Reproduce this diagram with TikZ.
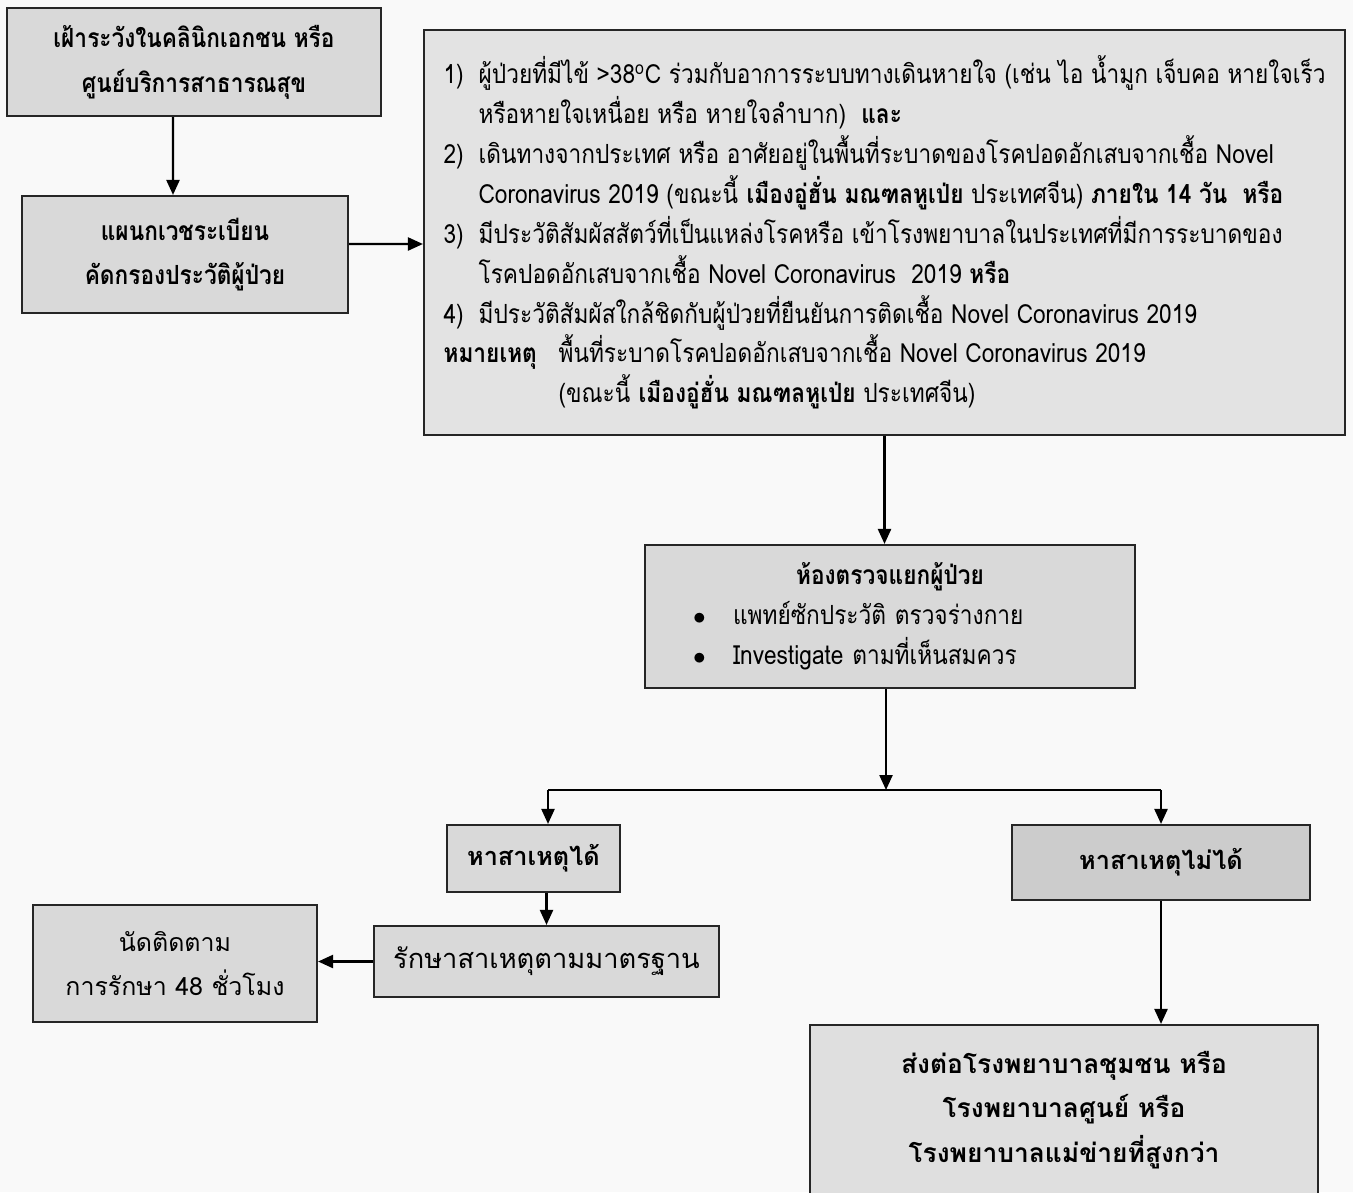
\documentclass[tikz,border=0pt]{standalone}
\usepackage{fontspec}
\setmainfont[Script=Thai]{Loma}
\newfontfamily\narrowfont[Script=Thai, FakeStretch=0.86]{Loma}
\usetikzlibrary{arrows.meta}
\begin{document}
\begin{tikzpicture}[thick,
    box/.style={draw=black!85, line width=1.2pt, fill=gray!30, align=center,
            inner sep=0pt, font=\fontsize{15}{25.5}\selectfont},
    boldbox/.style={box, font=\fontsize{15}{25.5}\selectfont\bfseries},
    narrowbox/.style={box, font=\narrowfont\fontsize{15}{25.5}\selectfont\bfseries},
    arr/.style={-{Triangle[length=0.3cm,width=0.26cm]}, line width=1.3pt}]
\useasboundingbox (0,0) rectangle (27.06,-23.84);
\fill [gray!5] (0,0) rectangle (27.06,-23.84);
% top left
\node [narrowbox, minimum width=7.48cm, minimum height=2.16cm] (watch) at (3.88,-1.24)
      {เฝ้าระวังในคลินิกเอกชน หรือ\\ศูนย์บริการสาธารณสุข};
\node [narrowbox, minimum width=6.52cm, minimum height=2.34cm] (records) at (3.70,-5.09)
      {แผนกเวชระเบียน\\คัดกรองประวัติผู้ป่วย};
% criteria
\node [box, fill=gray!22, align=left, minimum width=18.42cm, minimum height=8.1cm,
      font=\narrowfont\fontsize{15}{22.7}\selectfont] (criteria) at (17.69,-4.65)
      {\makebox[0.7cm][l]{1)}ผู้ป่วยที่มีไข้ >38\textsuperscript{o}C ร่วมกับอาการระบบทางเดินหายใจ (เช่น ไอ น้ำมูก เจ็บคอ หายใจเร็ว\\
       \hspace*{0.7cm}หรือหายใจเหนื่อย หรือ หายใจลำบาก)~ \textbf{และ}\\
       \makebox[0.7cm][l]{2)}เดินทางจากประเทศ หรือ อาศัยอยู่ในพื้นที่ระบาดของโรคปอดอักเสบจากเชื้อ Novel\\
       \hspace*{0.7cm}Coronavirus 2019 (ขณะนี้ \textbf{เมืองอู่ฮั่น มณฑลหูเป่ย} ประเทศจีน) \textbf{ภายใน 14 วัน~ หรือ}\\
       \makebox[0.7cm][l]{3)}มีประวัติสัมผัสสัตว์ที่เป็นแหล่งโรคหรือ เข้าโรงพยาบาลในประเทศที่มีการระบาดของ\\
       \hspace*{0.7cm}โรคปอดอักเสบจากเชื้อ Novel Coronavirus~ 2019 \textbf{หรือ}\\
       \makebox[0.7cm][l]{4)}มีประวัติสัมผัสใกล้ชิดกับผู้ป่วยที่ยืนยันการติดเชื้อ Novel Coronavirus 2019\\
       \makebox[2.3cm][l]{\textbf{หมายเหตุ}}พื้นที่ระบาดโรคปอดอักเสบจากเชื้อ Novel Coronavirus 2019\\
       \hspace*{2.3cm}(ขณะนี้ \textbf{เมืองอู่ฮั่น มณฑลหูเป่ย} ประเทศจีน)};
% examination room
\node [box, align=left, minimum width=9.8cm, minimum height=2.86cm, text width=7.88cm,
      inner xsep=0.96cm, font=\narrowfont\fontsize{15}{22.7}\selectfont] (room) at (17.80,-12.33)
      {\hfill\textbf{ห้องตรวจแยกผู้ป่วย}\hfill\null\\
       \makebox[0.8cm][l]{$\bullet$}แพทย์ซักประวัติ ตรวจร่างกาย\\
       \makebox[0.8cm][l]{$\bullet$}Investigate ตามที่เห็นสมควร};
% outcomes
\node [boldbox, minimum width=3.46cm, minimum height=1.34cm, font=\fontsize{14.4}{25.5}\selectfont\bfseries] (found) at (10.67,-17.17) {หาสาเหตุได้};
\node [boldbox, fill=gray!40, minimum width=5.96cm, minimum height=1.5cm, font=\fontsize{14.4}{25.5}\selectfont\bfseries] (notfound) at (23.22,-17.25) {หาสาเหตุไม่ได้};
\node [box, minimum width=6.9cm, minimum height=1.42cm, font=\fontsize{15.5}{25.5}\selectfont] (treat) at (10.93,-19.23) {รักษาสาเหตุตามมาตรฐาน};
\node [box, minimum width=5.68cm, minimum height=2.34cm, font=\fontsize{14.2}{25.5}\selectfont] (follow) at (3.50,-19.27) {นัดติดตาม\\การรักษา 48 ชั่วโมง};
\node [boldbox, fill=gray!25, minimum width=10.16cm, minimum height=3.4cm] (refer) at (21.28,-22.2)
      {ส่งต่อโรงพยาบาลชุมชน หรือ\\โรงพยาบาลศูนย์ หรือ\\โรงพยาบาลแม่ข่ายที่สูงกว่า};
% connectors
\draw [arr] ([xshift=-0.42cm]watch.south) -- ([xshift=-0.24cm]records.north);
\draw [arr] ([yshift=0.21cm]records.east) -- ([yshift=-0.23cm]criteria.west);
\draw [arr] (criteria.south) -- (criteria.south |- room.north);
\coordinate (split) at (17.72,-15.8);
\coordinate (leftend) at ([xshift=0.29cm]found.north |- split);
\coordinate (rightend) at (notfound.north |- split);
\draw [arr] (room.south -| split) -- (split);
\draw [line width=1.3pt] (leftend) -- (rightend);
\draw [arr] (leftend) -- ([xshift=0.29cm]found.north);
\draw [arr] (rightend) -- (notfound.north);
\draw [arr] (treat.north |- found.south) -- (treat.north);
\draw [arr] (treat.west) -- (treat.west -| follow.east);
\draw [arr] (notfound.south) -- (notfound.south |- refer.north);
\end{tikzpicture}
\end{document}
